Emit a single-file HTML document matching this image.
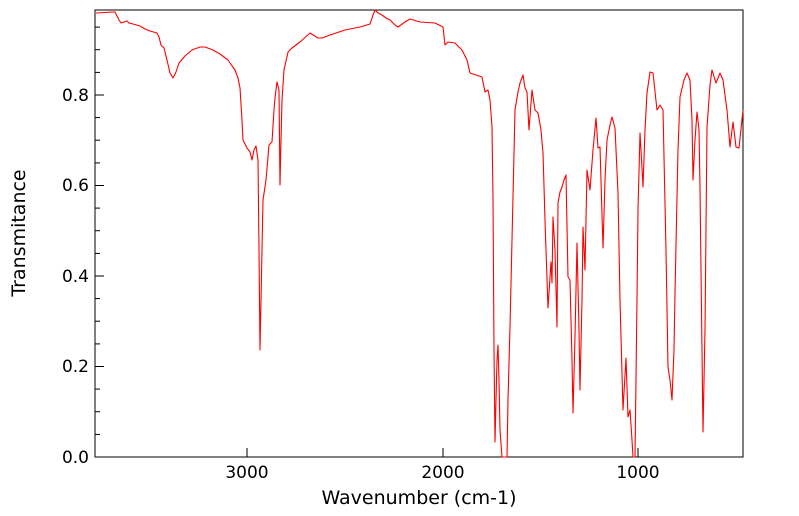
<!DOCTYPE html>
<html><head><meta charset="utf-8"><style>
html,body{margin:0;padding:0;background:#fff;}
svg{display:block;font-family:"DejaVu Sans","Liberation Sans",sans-serif;}
</style></head><body>
<svg width="799" height="516" viewBox="0 0 799 516" xmlns="http://www.w3.org/2000/svg">
<rect width="799" height="516" fill="#fff"/>
<g stroke="#000" stroke-width="1">
<line x1="95" y1="457" x2="104" y2="457"/><line x1="95" y1="366.5" x2="104" y2="366.5"/>
<line x1="95" y1="276" x2="104" y2="276"/><line x1="95" y1="185.5" x2="104" y2="185.5"/>
<line x1="95" y1="95" x2="104" y2="95"/>
<line x1="95" y1="434.4" x2="100" y2="434.4"/><line x1="95" y1="411.7" x2="100" y2="411.7"/><line x1="95" y1="389.1" x2="100" y2="389.1"/>
<line x1="95" y1="343.9" x2="100" y2="343.9"/><line x1="95" y1="321.2" x2="100" y2="321.2"/><line x1="95" y1="298.6" x2="100" y2="298.6"/>
<line x1="95" y1="253.4" x2="100" y2="253.4"/><line x1="95" y1="230.7" x2="100" y2="230.7"/><line x1="95" y1="208.1" x2="100" y2="208.1"/>
<line x1="95" y1="162.9" x2="100" y2="162.9"/><line x1="95" y1="140.2" x2="100" y2="140.2"/><line x1="95" y1="117.6" x2="100" y2="117.6"/>
<line x1="95" y1="72.4" x2="100" y2="72.4"/><line x1="95" y1="49.7" x2="100" y2="49.7"/><line x1="95" y1="27.1" x2="100" y2="27.1"/>
<line x1="247" y1="457" x2="247" y2="448"/><line x1="443" y1="457" x2="443" y2="448"/><line x1="638" y1="457" x2="638" y2="448"/>
</g>
<g stroke="#000" stroke-width="1" id="mx"></g>
<script>
var g=document.getElementById('mx'),s='';
for(var w=3700;w>=500;w-=100){if(w%1000==0)continue;var x=638-(w-1000)*0.1955;if(x<96||x>742)continue;
s+='<line x1="'+x+'" y1="457" x2="'+x+'" y2="452"/>';}
g.innerHTML=s;
</script>
<rect x="95" y="10" width="648" height="447" fill="none" stroke="#000" stroke-width="1"/>
<g font-size="17" fill="#000">
<text x="89" y="463" text-anchor="end">0.0</text>
<text x="89" y="372" text-anchor="end">0.2</text>
<text x="89" y="282" text-anchor="end">0.4</text>
<text x="89" y="191" text-anchor="end">0.6</text>
<text x="89" y="101" text-anchor="end">0.8</text>
<text x="247" y="478" text-anchor="middle">3000</text>
<text x="443" y="478" text-anchor="middle">2000</text>
<text x="638" y="478" text-anchor="middle">1000</text>
<text x="419" y="504" text-anchor="middle" font-size="19">Wavenumber (cm-1)</text>
<text transform="translate(25,233) rotate(-90)" text-anchor="middle" font-size="19">Transmitance</text>
</g>
<polyline fill="none" stroke="#ff0000" stroke-width="1.1" stroke-linejoin="round" points="
96,13 113,12 115,12 119,20 121,23 124,22 127,21 129,23 133,24 140,26 145,29 150,31 157,33 159,37 161,45 164,48 167,60 170,73 173,78 176,72 179,63 185,56 192,50 200,47 205,47 213,50 220,54 228,60 232,66 235,70 238,78 240,88 242,120 243,140 247,148 250,152 252,160 254,150 256,146 258,160 259,250 260,350 261,300 263,200 266,180 269,145 272,142 274,110 275,98 277,82 279,90 280,185 281,140 282,100 284,70 288,52 292,48 300,42 310,33 318,38 322,38 330,35 345,30 360,27 370,24 373,15 375,10 378,13 382,15 386,18 390,20 395,25 398,27 405,22 410,19 420,22 435,23 443,27 445,45 448,42 455,43 462,50 467,60 470,73 476,75 482,77 485,92 488,90 490,100 492,127 493,200 494,350 495,442 496,400 497,360 498,345 499,380 500,430 502,457 507,457 508,400 510,327 512,240 515,110 518,92 520,83 523,75 525,88 527,92 529,130 532,90 535,110 538,113 541,130 543,153 545,220 548,308 551,262 552,283 553,217 555,250 557,327 558,203 560,192 562,187 564,180 566,175 568,277 570,280 572,360 573,413 575,337 577,243 579,330 580,390 582,300 583,227 585,270 587,170 590,190 593,150 596,118 598,148 600,147 603,248 605,180 607,140 610,125 612,117 615,128 618,193 620,300 623,410 626,358 628,417 630,410 632,440 633,457 635,457 637,300 638,210 640,133 641,150 643,187 645,130 647,93 650,72 653,73 657,110 660,105 663,110 666,250 668,367 670,380 672,400 674,350 675,293 678,150 680,97 684,80 687,73 690,80 692,120 693,180 695,140 697,112 699,130 700,187 702,350 703,432 705,330 707,127 710,85 712,70 716,83 720,73 723,80 725,95 727,110 730,147 733,122 736,147 739,148 743,110"/>
</svg>
</body></html>
